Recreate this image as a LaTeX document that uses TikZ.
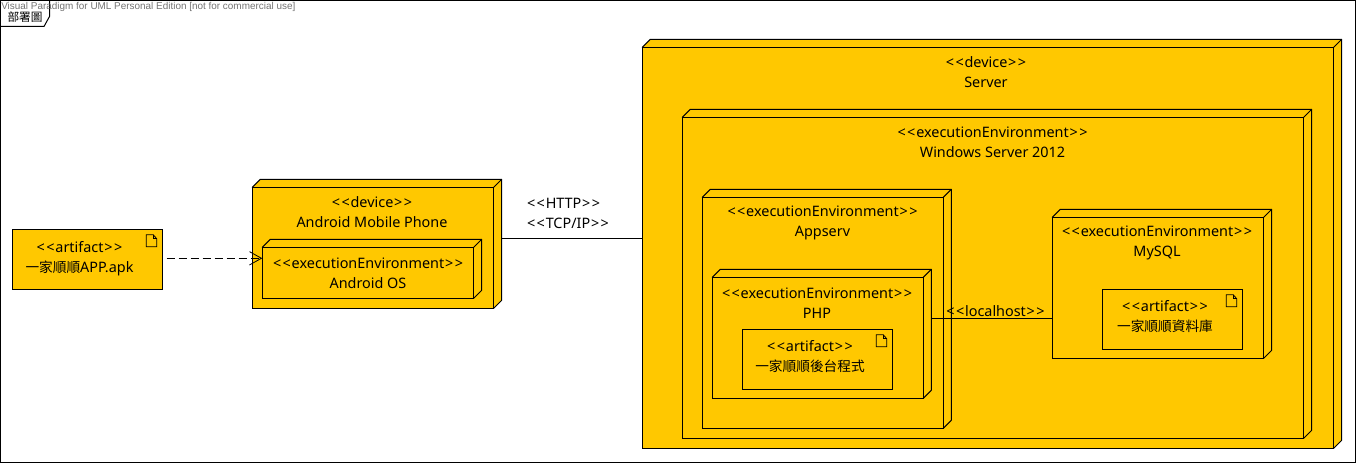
\documentclass[tikz,border=0pt]{standalone}
\usepackage{fontspec}
\setmainfont{Noto Sans}
\newfontfamily\cjk[Scale=0.95]{Noto Sans CJK TC}
\newfontfamily\markfont{Liberation Sans}
\usetikzlibrary{arrows.meta}
\definecolor{nodefill}{HTML}{FFC800}
\newcommand{\ster}[1]{<\kern1.1pt<\kern0.6pt#1\kern0.6pt>\kern1.1pt>}
\tikzset{
  nodeface/.style={draw, fill=nodefill, line width=0.75pt, inner sep=0pt, outer sep=0pt, anchor=north west},
  nodeside/.style={draw, fill=nodefill, line width=0.75pt, line join=round},
  nodetxt/.style={inner sep=0pt, align=center, font=\fontsize{10.8}{15}\selectfont},
  conn/.style={line width=0.75pt},
  depend/.style={conn, dashed, dash pattern=on 6pt off 3pt, -{Straight Barb[length=9pt, width=10pt, line width=0.6pt]}},
}
\begin{document}
\begin{tikzpicture}[x=0.75pt, y=-0.75pt]
  \useasboundingbox (0,0) rectangle (1356,463);
  % rahmen
  \draw[line width=0.75pt] (0.5,0.5) rectangle (1355.5,462.5);
  \draw[line width=0.75pt] (0.5,26.5) -- (44,26.5) -- (49.5,16.5) -- (49.5,0.5);
  \node[inner sep=0pt, font=\fontsize{9.2}{11}\selectfont\cjk] (tabtxt) at (25,17) {部署圖};
  \node[inner sep=0pt, anchor=west, text=black!55, font=\fontsize{7.45}{8}\markfont] (marktxt) at (1,6.5) {Visual Paradigm for UML Personal Edition [not for commercial use]};
  % wuerfel, aussen zuerst
  \foreach \nm/\xa/\ya/\xb/\yb in {server/642.3/47.3/1333.7/448.3, winsrv/682.3/117.3/1303.7/438.3, appserv/702.3/197.3/943.3/428.3, php/712.3/277.3/923.3/398.3, mysql/1052.3/217.3/1263.7/358.3, phone/252.3/187.3/493.7/308.3, os/262.3/247.3/473.7/298.3}{
    \draw[nodeside] (\xa,\ya) -- ++(8,-8) -- (\xb+8,\ya-8) -- (\xb+8,\yb-8) -- (\xb,\yb) -- cycle;
    \draw[conn] (\xb,\ya) -- ++(8,-8);
    \pgfmathsetmacro\bw{(\xb-\xa)*0.75}
    \pgfmathsetmacro\bh{(\yb-\ya)*0.75}
    \node[nodeface, minimum width=\bw pt, minimum height=\bh pt] (\nm) at (\xa,\ya) {};
  }
  % artefakte
  \foreach \nm/\xa/\ya/\xb/\yb in {apk/12.3/229.3/162.3/289.3, phpart/742.3/329.3/892.3/389.3, dbart/1102.3/289.3/1242.3/349.3}{
    \pgfmathsetmacro\bw{(\xb-\xa)*0.75}
    \pgfmathsetmacro\bh{(\yb-\ya)*0.75}
    \node[nodeface, minimum width=\bw pt, minimum height=\bh pt] (\nm) at (\xa,\ya) {};
    \draw[line width=0.6pt] (\xb-16,\ya+5.5) -- ++(7,0) -- ++(3.5,4) -- ++(0,8) -- ++(-10.5,0) -- cycle;
    \draw[line width=0.6pt] (\xb-9,\ya+5.5) -- ++(0,4) -- ++(3.5,0);
  }
  % beschriftung
  \foreach \nm/\x/\y/\txt in {server/986/72.5/{\ster{device}\\Server}, winsrv/992.5/142.7/{\ster{executionEnvironment}\\Windows Server 2012}, appserv/822.5/223.2/{\ster{executionEnvironment}\\Appserv}, php/817/303/{\ster{executionEnvironment}\\PHP}, mysql/1157/243.2/{\ster{executionEnvironment}\\MySQL}, phone/372/212.5/{\ster{device}\\Android Mobile Phone}, os/368/273/{\ster{executionEnvironment}\\Android OS}, apk/79.5/258.5/{\ster{artifact}\\{\cjk 一家順順}APP.apk}, phpart/810/356.5/{\ster{artifact}\\{\cjk 一家順順後台程式}}, dbart/1165/316.5/{\ster{artifact}\\{\cjk 一家順順資料庫}}}{
    \node[nodetxt] (\nm txt) at (\x,\y) {\txt};
  }
  % verbindungen
  \coordinate (apkout) at (166.7,258.3);
  \coordinate (phoneout) at (501.7,238.5);
  \coordinate (phpout) at (931.3,318.5);
  \draw[depend] (apkout) -- (apkout -| os.west);
  \draw[conn] (phoneout) -- (phoneout -| server.west);
  \draw[conn] (phpout) -- (phpout -| mysql.west);
  \node[nodetxt, align=left] (httptxt) at (568,213) {\ster{HTTP}\\\ster{TCP/IP}};
  \node[nodetxt] (localtxt) at (995.5,311) {\ster{localhost}};
\end{tikzpicture}
\end{document}
